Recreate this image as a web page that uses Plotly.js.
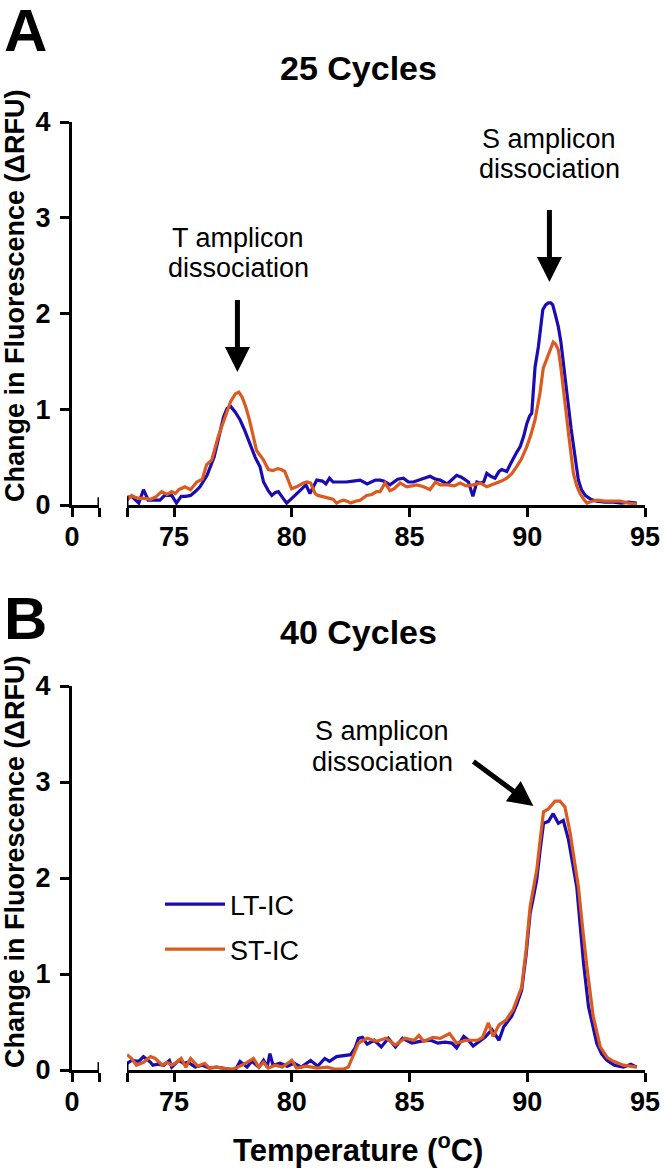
<!DOCTYPE html>
<html>
<head>
<meta charset="utf-8">
<script src="https://cdn.plot.ly/plotly-3.0.1.min.js"></script>
<style>html,body{margin:0;padding:0;background:#fff;}#chart{width:664px;height:1175px;}</style>
</head>
<body>
<div id="chart"></div>
<script>
// ---------- DATA ----------
const seriesNames = ["LT-IC", "ST-IC"];
const panelTitles = ["25 Cycles", "40 Cycles"];
const xTickVals = [73, 75, 80, 85, 90, 95];
const xTickText = ["", "75", "80", "85", "90", "95"];
const yTickVals = [0, 1, 2, 3, 4];

// Panel A (25 cycles) — LT-IC
const a_lt_x = [73.0,73.2,73.5,73.7,73.9,74.2,74.4,74.6,74.9,75.1,75.3,75.5,75.7,75.9,76.1,76.4,76.7,76.9,77.1,77.25,77.4,77.6,77.8,78.0,78.15,78.3,78.44,78.65,78.8,79.0,79.15,79.3,79.43,79.6,79.78,80.0,80.2,80.35,80.5,80.6,80.77,80.9,81.06,81.3,81.45,81.6,81.75,82.0,82.3,82.6,82.9,83.2,83.55,83.75,83.9,84.17,84.5,84.74,84.95,85.16,85.4,85.6,85.87,86.1,86.3,86.6,86.8,87.0,87.2,87.5,87.69,87.86,88.0,88.15,88.28,88.45,88.63,88.8,88.92,89.13,89.27,89.41,89.55,89.7,89.85,89.98,90.1,90.19,90.33,90.47,90.58,90.66,90.78,90.9,91.0,91.08,91.2,91.32,91.43,91.53,91.64,91.75,91.86,91.96,92.06,92.17,92.3,92.46,92.7,92.95,93.3,93.66,94.0,94.3,94.65];
const a_lt_y = [0.08,0.09,0.02,0.16,0.05,0.05,0.05,0.10,0.10,0.02,0.09,0.09,0.10,0.14,0.19,0.31,0.50,0.71,0.92,1.01,1.03,0.97,0.89,0.78,0.68,0.58,0.50,0.40,0.24,0.15,0.10,0.13,0.14,0.08,0.02,0.07,0.12,0.15,0.19,0.21,0.12,0.18,0.26,0.25,0.22,0.28,0.24,0.24,0.24,0.25,0.26,0.22,0.26,0.26,0.25,0.21,0.27,0.28,0.24,0.24,0.26,0.27,0.30,0.27,0.26,0.22,0.26,0.31,0.29,0.24,0.09,0.24,0.23,0.24,0.33,0.30,0.28,0.35,0.37,0.35,0.42,0.49,0.55,0.61,0.72,0.85,0.93,0.96,1.44,1.65,1.90,2.04,2.09,2.11,2.11,2.09,1.98,1.86,1.70,1.51,1.27,1.03,0.80,0.61,0.42,0.26,0.16,0.10,0.06,0.04,0.03,0.03,0.02,0.03,0.02];

// Panel A (25 cycles) — ST-IC
const a_st_x = [73.0,73.2,73.35,73.5,73.75,74.0,74.2,74.47,74.7,74.9,75.05,75.2,75.46,75.7,75.96,76.2,76.38,76.6,76.87,77.0,77.2,77.4,77.6,77.75,77.9,78.05,78.2,78.35,78.5,78.65,78.8,79.0,79.2,79.4,79.55,79.7,79.85,79.99,80.2,80.35,80.49,80.65,80.8,80.99,81.1,81.27,81.45,81.6,81.75,81.9,82.05,82.2,82.35,82.5,82.7,82.9,83.18,83.4,83.6,83.75,83.96,84.17,84.35,84.6,84.88,85.1,85.3,85.6,85.87,86.1,86.3,86.6,86.9,87.15,87.4,87.7,88.0,88.28,88.5,88.7,88.9,89.13,89.35,89.55,89.75,89.98,90.15,90.33,90.45,90.54,90.68,90.9,91.0,91.1,91.2,91.32,91.42,91.53,91.64,91.75,91.86,91.96,92.1,92.24,92.4,92.53,92.75,92.95,93.3,93.6,93.95,94.3,94.65];
const a_st_y = [0.05,0.10,0.08,0.07,0.07,0.06,0.08,0.14,0.11,0.14,0.12,0.16,0.19,0.16,0.24,0.27,0.42,0.47,0.71,0.80,0.95,1.08,1.16,1.18,1.12,1.02,0.89,0.72,0.57,0.52,0.47,0.37,0.36,0.38,0.37,0.35,0.25,0.17,0.19,0.21,0.23,0.24,0.23,0.12,0.10,0.09,0.08,0.07,0.06,0.02,0.04,0.05,0.04,0.02,0.04,0.05,0.10,0.11,0.14,0.14,0.23,0.15,0.17,0.23,0.19,0.20,0.21,0.19,0.16,0.24,0.21,0.21,0.20,0.23,0.20,0.21,0.23,0.19,0.21,0.23,0.25,0.28,0.33,0.40,0.48,0.61,0.73,0.89,1.03,1.17,1.43,1.57,1.64,1.70,1.68,1.62,1.45,1.24,0.99,0.75,0.52,0.33,0.20,0.12,0.06,0.02,0.04,0.05,0.04,0.04,0.04,0.02,0.01];

// Panel B (40 cycles) — LT-IC
const b_lt_x = [73.0,73.2,73.5,73.7,74.0,74.1,74.3,74.56,74.8,74.9,75.2,75.4,75.6,75.9,76.2,76.5,76.8,77.1,77.4,77.6,77.8,78.1,78.3,78.6,78.8,78.95,79.07,79.2,79.5,79.8,80.1,80.4,80.8,81.1,81.4,81.6,81.9,82.2,82.5,82.69,82.83,83.0,83.2,83.5,83.8,84.1,84.4,84.7,85.1,85.5,85.9,86.2,86.5,86.8,87.0,87.3,87.5,87.7,88.0,88.2,88.5,88.8,89.0,89.34,89.55,89.76,89.95,90.12,90.26,90.4,90.55,90.69,90.9,91.1,91.32,91.53,91.75,91.92,92.1,92.25,92.39,92.6,92.78,92.95,93.15,93.38,93.7,94.08,94.4,94.65];
const b_lt_y = [0.07,0.10,0.09,0.14,0.08,0.05,0.06,0.05,0.10,0.03,0.10,0.07,0.08,0.03,0.05,0.02,0.03,0.02,0.01,0.00,0.09,0.03,0.09,0.03,0.10,0.03,0.17,0.05,0.07,0.04,0.07,0.03,0.10,0.04,0.12,0.09,0.14,0.15,0.16,0.23,0.33,0.34,0.27,0.31,0.24,0.33,0.24,0.33,0.28,0.30,0.31,0.28,0.29,0.28,0.23,0.35,0.31,0.25,0.31,0.34,0.42,0.31,0.45,0.56,0.68,0.83,1.20,1.63,1.80,1.98,2.30,2.57,2.59,2.67,2.57,2.60,2.40,2.15,1.91,1.50,1.11,0.66,0.45,0.28,0.17,0.10,0.05,0.03,0.06,0.03];

// Panel B (40 cycles) — ST-IC
const b_st_x = [73.0,73.2,73.4,73.7,74.0,74.2,74.5,74.7,74.9,75.1,75.3,75.5,75.7,76.0,76.3,76.5,76.8,77.0,77.3,77.5,77.8,78.1,78.37,78.6,78.8,79.0,79.3,79.6,80.0,80.2,80.6,81.1,81.5,81.8,82.2,82.4,82.65,82.83,83.2,83.6,84.0,84.4,84.8,85.2,85.4,85.6,86.0,86.3,86.7,87.0,87.4,87.9,88.1,88.35,88.55,88.8,89.1,89.4,89.76,89.95,90.12,90.26,90.4,90.55,90.69,90.9,91.18,91.39,91.6,91.82,92.0,92.17,92.35,92.53,92.8,92.95,93.1,93.4,93.66,94.08,94.4,94.65];
const b_st_y = [0.16,0.12,0.05,0.08,0.14,0.12,0.05,0.08,0.05,0.08,0.12,0.03,0.12,0.04,0.07,0.02,0.03,0.02,0.01,0.01,0.04,0.08,0.12,0.03,0.08,0.02,0.05,0.03,0.10,0.02,0.04,0.02,0.03,0.01,0.01,0.03,0.17,0.28,0.33,0.30,0.33,0.26,0.33,0.31,0.36,0.30,0.34,0.33,0.38,0.28,0.31,0.31,0.34,0.49,0.35,0.47,0.52,0.63,0.86,1.25,1.70,1.88,2.08,2.40,2.69,2.72,2.80,2.80,2.74,2.47,2.20,1.91,1.48,1.08,0.56,0.38,0.24,0.13,0.09,0.05,0.04,0.03];

// ---------- STYLE ----------
const W = 664, H = 1175;
const FONT = "Liberation Sans, Arial, Helvetica, sans-serif";
const BLUE = "#1A0CB2", ORANGE = "#DD5A1E";
const px = v => v / W;
const py = v => 1 - v / H;

const traces = [
  {x: a_lt_x, y: a_lt_y, xaxis: "x2", yaxis: "y", name: seriesNames[0], showlegend: false},
  {x: a_st_x, y: a_st_y, xaxis: "x2", yaxis: "y", name: seriesNames[1], showlegend: false},
  {x: b_lt_x, y: b_lt_y, xaxis: "x4", yaxis: "y2", name: seriesNames[0], showlegend: true, legendgroup: "g1"},
  {x: b_st_x, y: b_st_y, xaxis: "x4", yaxis: "y2", name: seriesNames[1], showlegend: true, legendgroup: "g2"}
].map((t, i) => Object.assign(t, {
  type: "scatter", mode: "lines", hoverinfo: "skip",
  line: {color: i % 2 === 0 ? BLUE : ORANGE, width: 3.2}
}));

const tickFont = {family: FONT, size: 27, color: "#000", weight: "bold"};
const axBase = {
  showline: true, linecolor: "#000", linewidth: 3, mirror: false,
  ticks: "outside", ticklen: 9, tickwidth: 3, tickcolor: "#000",
  showgrid: false, zeroline: false, tickfont: tickFont, fixedrange: true
};
const leftDom = [px(72), px(99)];
const rightDom = [px(127), px(645)];
const domA = [py(505), py(122)];
const domB = [py(1070), py(686)];

const layout = {
  width: W, height: H,
  margin: {l: 0, r: 0, t: 0, b: 0},
  paper_bgcolor: "#fff", plot_bgcolor: "rgba(0,0,0,0)",
  showlegend: true,
  legend: {
    x: px(160), y: py(880), xanchor: "left", yanchor: "top",
    font: {family: FONT, size: 27, color: "#000"},
    bgcolor: "rgba(0,0,0,0)", borderwidth: 0, itemwidth: 60, tracegroupgap: 7
  },
  xaxis:  Object.assign({}, axBase, {domain: leftDom, range: [0, 1], anchor: "y", tickvals: [0, 1], ticktext: ["0", ""], ticklabelstandoff: -3}),
  xaxis2: Object.assign({}, axBase, {domain: rightDom, range: [73, 95], anchor: "y", tickvals: xTickVals, ticktext: xTickText, ticklabelstandoff: -3}),
  yaxis:  Object.assign({}, axBase, {domain: domA, range: [0, 4], anchor: "x", tickvals: yTickVals, ticklabelstandoff: 4}),
  xaxis3: Object.assign({}, axBase, {domain: leftDom, range: [0, 1], anchor: "y2", tickvals: [0, 1], ticktext: ["0", ""], ticklabelstandoff: -3}),
  xaxis4: Object.assign({}, axBase, {domain: rightDom, range: [73, 95], anchor: "y2", tickvals: xTickVals, ticktext: xTickText, ticklabelstandoff: -3}),
  yaxis2: Object.assign({}, axBase, {domain: domB, range: [0, 4], anchor: "x3", tickvals: yTickVals, ticklabelstandoff: 4}),
  shapes: [
    {type: "line", xref: "x", yref: "y domain", x0: 1, x1: 1, y0: 0, y1: 0.02, line: {color: "#000", width: 3}},
    {type: "line", xref: "x2", yref: "y domain", x0: 73, x1: 73, y0: 0, y1: 0.02, line: {color: "#000", width: 3}},
    {type: "line", xref: "x3", yref: "y2 domain", x0: 1, x1: 1, y0: 0, y1: 0.02, line: {color: "#000", width: 3}},
    {type: "line", xref: "x4", yref: "y2 domain", x0: 73, x1: 73, y0: 0, y1: 0.02, line: {color: "#000", width: 3}}
  ],
  annotations: []
};

const A = layout.annotations;
const txt = (text, x, y, size, bold, extra) => A.push(Object.assign({
  text: text, xref: "paper", yref: "paper", x: px(x), y: py(y),
  xanchor: "center", yanchor: "middle", showarrow: false,
  font: {family: FONT, size: size, color: "#000", weight: bold ? "bold" : "normal"}
}, extra || {}));

// panel letters & titles
txt("A", 25, 30, 60, true);
txt("B", 25, 618, 60, true);
txt(panelTitles[0], 358.5, 68, 34, true);
txt(panelTitles[1], 358.5, 632, 34, true);
// y titles
txt("Change in Fluorescence (\u0394RFU)", 15, 296, 27, true, {textangle: -90});
txt("Change in Fluorescence (\u0394RFU)", 15, 862, 27, true, {textangle: -90});
// x title
txt("Temperature (<sup>o</sup>C)", 358, 1148, 31, true);
// callout text
txt("T amplicon", 238, 238, 27, false);
txt("dissociation", 238, 268, 27, false);
txt("S amplicon", 549, 139, 27, false);
txt("dissociation", 549, 169, 27, false);
txt("S amplicon", 382, 731, 27, false);
txt("dissociation", 382, 762, 27, false);

// arrows
const arrow = (xref, yref, x, y, ax, ay) => A.push({
  text: " ", xref: xref, yref: yref, x: x, y: y, ax: ax, ay: ay,
  showarrow: true, arrowhead: 2, arrowsize: 1, arrowwidth: 5, arrowcolor: "#000", standoff: 0,
  font: {size: 2}
});
arrow("x2", "y", 77.69, 1.39, 0, -75);
arrow("x2", "y", 90.94, 2.33, 0, -75);
arrow("x4", "y2", 90.26, 2.75, -62, -46);

Plotly.newPlot("chart", traces, layout, {staticPlot: true, displayModeBar: false});
</script>
</body>
</html>
